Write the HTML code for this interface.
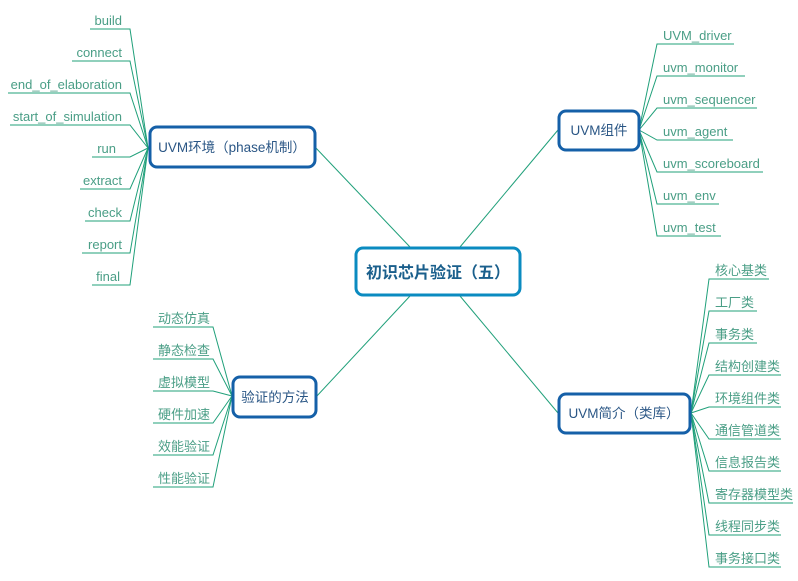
<!DOCTYPE html>
<html><head><meta charset="utf-8"><style>
html,body{margin:0;padding:0;background:#fff;}
svg{display:block;}
text{font-family:"Liberation Sans","Noto Sans CJK SC",sans-serif;}
.l{font-size:13px;fill:#4a9e86;}
.n{font-size:13.5px;fill:#2a5685;}
</style></head><body>
<svg width="798" height="581" viewBox="0 0 798 581" xmlns="http://www.w3.org/2000/svg">
<g stroke="#20a07a" stroke-width="1" fill="none">
<line x1="315" y1="147" x2="410" y2="247"/>
<line x1="558" y1="130" x2="460" y2="247"/>
<line x1="460" y1="296" x2="558" y2="413"/>
<line x1="410" y1="296" x2="316" y2="397"/>
<path d="M148,148 L130,29 L90,29"/>
<path d="M148,148 L130,61 L72,61"/>
<path d="M148,148 L130,93 L8,93"/>
<path d="M148,148 L130,125 L10,125"/>
<path d="M148,148 L130,157 L92,157"/>
<path d="M148,148 L130,189 L80,189"/>
<path d="M148,148 L130,221 L85,221"/>
<path d="M148,148 L130,253 L82,253"/>
<path d="M148,148 L130,285 L92,285"/>
<path d="M639,130 L657,44 L734,44"/>
<path d="M639,130 L657,76 L745,76"/>
<path d="M639,130 L657,108 L757,108"/>
<path d="M639,130 L657,140 L733,140"/>
<path d="M639,130 L657,172 L763,172"/>
<path d="M639,130 L657,204 L719,204"/>
<path d="M639,130 L657,236 L721,236"/>
<path d="M691,413 L709,279 L769,279"/>
<path d="M691,413 L709,311 L757,311"/>
<path d="M691,413 L709,343 L757,343"/>
<path d="M691,413 L709,375 L781,375"/>
<path d="M691,413 L709,407 L781,407"/>
<path d="M691,413 L709,439 L781,439"/>
<path d="M691,413 L709,471 L781,471"/>
<path d="M691,413 L709,503 L793,503"/>
<path d="M691,413 L709,535 L781,535"/>
<path d="M691,413 L709,567 L781,567"/>
<path d="M232,396 L213,327 L153,327"/>
<path d="M232,396 L213,359 L153,359"/>
<path d="M232,396 L213,391 L153,391"/>
<path d="M232,396 L213,423 L153,423"/>
<path d="M232,396 L213,455 L153,455"/>
<path d="M232,396 L213,487 L153,487"/>
</g>
<rect x="356" y="248" width="164" height="47" rx="7" fill="#fff" stroke="#0b8bc0" stroke-width="3"/>
<text x="438" y="278" text-anchor="middle" style="font-size:16px;font-weight:bold;fill:#1a5f8c">初识芯片验证（五）</text>
<g fill="#fff" stroke="#1560a8" stroke-width="3">
<rect x="150" y="127" width="165" height="40" rx="7"/>
<rect x="559" y="111" width="80" height="39" rx="7"/>
<rect x="559" y="394" width="131" height="39" rx="7"/>
<rect x="233" y="377" width="83" height="40" rx="7"/>
</g>
<text class="n" x="232" y="152" text-anchor="middle">UVM环境（phase机制）</text>
<text class="n" x="599" y="135" text-anchor="middle">UVM组件</text>
<text class="n" x="624" y="418" text-anchor="middle">UVM简介（类库）</text>
<text class="n" x="275" y="402" text-anchor="middle">验证的方法</text>
<g class="l" text-anchor="end">
<text x="122" y="25">build</text>
<text x="122" y="57">connect</text>
<text x="122" y="89">end_of_elaboration</text>
<text x="122" y="121">start_of_simulation</text>
<text x="116" y="153">run</text>
<text x="122" y="185">extract</text>
<text x="122" y="217">check</text>
<text x="122" y="249">report</text>
<text x="120" y="281">final</text>
</g>
<g class="l">
<text x="663" y="40">UVM_driver</text>
<text x="663" y="72">uvm_monitor</text>
<text x="663" y="104">uvm_sequencer</text>
<text x="663" y="136">uvm_agent</text>
<text x="663" y="168">uvm_scoreboard</text>
<text x="663" y="200">uvm_env</text>
<text x="663" y="232">uvm_test</text>
<text x="715" y="275">核心基类</text>
<text x="715" y="307">工厂类</text>
<text x="715" y="339">事务类</text>
<text x="715" y="371">结构创建类</text>
<text x="715" y="403">环境组件类</text>
<text x="715" y="435">通信管道类</text>
<text x="715" y="467">信息报告类</text>
<text x="715" y="499">寄存器模型类</text>
<text x="715" y="531">线程同步类</text>
<text x="715" y="563">事务接口类</text>
<text x="158" y="323">动态仿真</text>
<text x="158" y="355">静态检查</text>
<text x="158" y="387">虚拟模型</text>
<text x="158" y="419">硬件加速</text>
<text x="158" y="451">效能验证</text>
<text x="158" y="483">性能验证</text>
</g>
</svg>
</body></html>
